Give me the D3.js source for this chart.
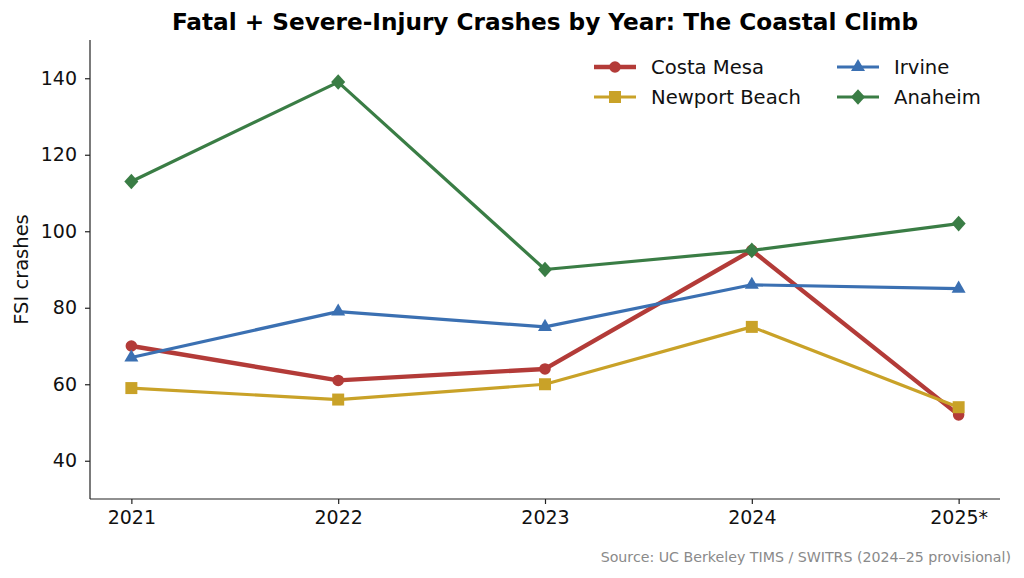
<!DOCTYPE html>
<html><head><meta charset="utf-8">
<script src="https://cdn.jsdelivr.net/npm/d3@7"></script>
<style>body{margin:0;background:#fff}svg{font-family:"DejaVu Sans",sans-serif}</style>
</head><body>
<svg id="c" width="1024" height="578"></svg>
<script>
const years = ["2021","2022","2023","2024","2025*"];
const costaMesa = [70,61,64,95,52];
const newportBeach = [59,56,60,75,54];
const irvine = [67,79,75,86,85];
const anaheim = [113,139,90,95,102];
const yTicks = [40,60,80,100,120,140];
const seriesNames = ["Costa Mesa","Newport Beach","Irvine","Anaheim"];
const seriesColors = ["#b33b38","#c9a228","#3b70b2","#3a7d45"];
const seriesSymbols = ["circle","square","triangle","diamond"];
const seriesWidths = [4.4,3.2,3.2,3.2];
const seriesValues = [costaMesa,newportBeach,irvine,anaheim];

const svg = d3.select("#c");
const L=90,R=1000,T=40,B=499;
const x = d3.scaleLinear().domain([-0.2,4.2]).range([L,R]);
const y = d3.scaleLinear().domain([30,150]).range([B,T]);

svg.append("text").attr("x",545).attr("y",30).attr("text-anchor","middle")
  .attr("font-size",23.2).attr("font-weight","bold").attr("fill","#000").text("Fatal + Severe-Injury Crashes by Year: The Coastal Climb");

const gx = svg.append("g").attr("transform",`translate(0,${B})`)
  .call(d3.axisBottom(x).tickValues(d3.range(years.length)).tickFormat(i=>years[i]).tickSize(5).tickPadding(7).tickSizeOuter(0));
const gy = svg.append("g").attr("transform",`translate(${L},0)`)
  .call(d3.axisLeft(y).tickValues(yTicks).tickSize(5).tickPadding(8).tickSizeOuter(0));
[gx,gy].forEach(g=>{g.selectAll("text").attr("font-size",19).attr("fill","#111").attr("font-family","DejaVu Sans");
  g.selectAll("line,path").attr("stroke","#222").attr("stroke-width",1.2);});
gx.select(".domain").attr("d",`M${L},0H${R}`);
gy.select(".domain").attr("d",`M0,${T}V${B}`);

svg.append("text").attr("transform",`translate(28,${(T+B)/2}) rotate(-90)`).attr("text-anchor","middle")
  .attr("font-size",19.5).attr("fill","#111").text("FSI crashes");

const symSize = {circle:105,square:144,triangle:85,diamond:140};
function sym(t){
  const m={circle:d3.symbolCircle,square:d3.symbolSquare,triangle:d3.symbolTriangle,diamond:d3.symbolDiamond2};
  return d3.symbol().type(m[t]).size(symSize[t])();
}
const line = d3.line().x((d,i)=>x(i)).y(d=>y(d));
seriesValues.forEach((vals,k)=>{
  const g = svg.append("g");
  g.append("path").datum(vals).attr("d",line).attr("fill","none")
    .attr("stroke",seriesColors[k]).attr("stroke-width",seriesWidths[k]).attr("stroke-linejoin","round");
  g.selectAll("path.m").data(vals).join("path").attr("class","m")
    .attr("transform",(d,i)=>`translate(${x(i)},${y(d)})${seriesSymbols[k]==="diamond"?" scale(0.95,1.05)":""}`)
    .attr("d",sym(seriesSymbols[k])).attr("fill",seriesColors[k]);
});

// legend
const legPos = [[594,67],[594,97],[837,67],[837,97]];
seriesNames.forEach((n,k)=>{
  const [lx,ly]=legPos[k];
  const g=svg.append("g");
  g.append("line").attr("x1",lx).attr("x2",lx+42).attr("y1",ly).attr("y2",ly)
    .attr("stroke",seriesColors[k]).attr("stroke-width",seriesWidths[k]);
  g.append("path").attr("transform",`translate(${lx+21},${ly})${seriesSymbols[k]==="diamond"?" scale(0.95,1.05)":""}`)
    .attr("d",sym(seriesSymbols[k])).attr("fill",seriesColors[k]);
  g.append("text").attr("x",lx+57).attr("y",ly+7).attr("font-size",19.6).attr("fill","#111").text(n);
});

svg.append("text").attr("x",1011).attr("y",562).attr("text-anchor","end")
  .attr("font-size",14.2).attr("fill","#8a8a8a").text("Source: UC Berkeley TIMS / SWITRS (2024–25 provisional)");
</script>
</body></html>
